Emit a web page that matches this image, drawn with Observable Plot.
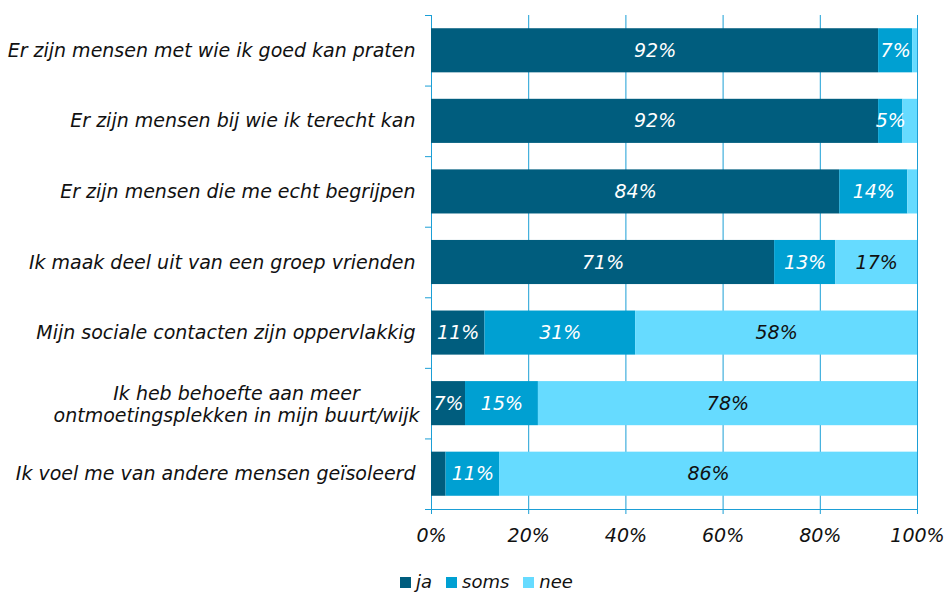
<!DOCTYPE html>
<html><head><meta charset="utf-8">
<script src="https://cdn.jsdelivr.net/npm/d3@7"></script>
<script src="https://cdn.jsdelivr.net/npm/@observablehq/plot@0.6"></script>
<style>
body{margin:0;background:#fff;font-family:"DejaVu Sans",Verdana,sans-serif;}
#wrap{position:relative;width:948px;height:592px;}
#legend{position:absolute;left:400px;top:572px;display:flex;align-items:center;font-style:italic;font-size:18px;color:#111;line-height:20px;}
#legend .item{display:flex;align-items:center;margin-right:14px;}
#legend .sw{width:11px;height:11px;margin-right:5px;}
</style></head><body>
<div id="wrap"><div id="chart"></div><div id="legend"></div></div>
<script>
const categories = [
  "Er zijn mensen met wie ik goed kan praten",
  "Er zijn mensen bij wie ik terecht kan",
  "Er zijn mensen die me echt begrijpen",
  "Ik maak deel uit van een groep vrienden",
  "Mijn sociale contacten zijn oppervlakkig",
  "Ik heb behoefte aan meer\nontmoetingsplekken in mijn buurt/wijk",
  "Ik voel me van andere mensen geïsoleerd"
];
const seriesNames = ["ja", "soms", "nee"];
const ja   = [92, 92, 84, 70.6, 11, 7, 3];
const soms = [7, 5, 14, 12.6, 31, 15, 11];
const nee  = [1, 3, 2, 16.8, 58, 78, 86];
const xTicks = [0, 20, 40, 60, 80, 100];
const colors = ["#005d7e", "#00a0d2", "#66dbff"];
const lineColor = "#1b9fd6";

const values = {ja, soms, nee};
const data = [];
categories.forEach((c, i) => seriesNames.forEach(s => data.push({cat: c, series: s, value: values[s][i]})));

const W = 948, H = 555, mt = 15, mb = 46, ml = 431, mr = 31;
const step = (H - mt - mb) / categories.length;
const lbl = d => d.value >= 4 ? Math.round(d.value) + "%" : "";
const wrapped = categories.filter(c => c.includes("\n"));
const single = categories.filter(c => !c.includes("\n"));

const chart = Plot.plot({
  width: W, height: H,
  marginLeft: ml, marginRight: mr, marginTop: mt, marginBottom: mb,
  style: {fontFamily: "DejaVu Sans, Verdana, sans-serif", fontSize: "18px", fontStyle: "italic", color: "#111", background: "#fff", overflow: "visible"},
  x: {domain: [0, 100], label: null},
  y: {domain: categories, paddingInner: 0.375, paddingOuter: 0.1875, round: false, axis: null, label: null},
  color: {domain: seriesNames, range: colors},
  marks: [
    Plot.ruleX(xTicks, {stroke: lineColor, strokeWidth: 1}),
    Plot.barX(data, Plot.stackX({y: "cat", x: "value", fill: "series"})),
    Plot.text(data, Plot.stackX({y: "cat", x: "value", text: d => d.series !== "nee" ? lbl(d) : "", fill: "white", fontSize: 19, fontStyle: "italic", letterSpacing: 1})),
    Plot.text(data, Plot.stackX({y: "cat", x: "value", text: d => d.series === "nee" ? lbl(d) : "", fill: "#111", fontSize: 19, fontStyle: "italic", letterSpacing: 1})),
    Plot.ruleY(categories, {y: d => d, x1: 0, x2: 0, insetLeft: -6, dy: -step / 2, stroke: lineColor}),
    Plot.ruleY(categories.slice(-1), {y: d => d, x1: 0, x2: 100, insetLeft: -6, dy: step / 2, stroke: lineColor}),
    Plot.axisX({ticks: xTicks, tickFormat: d => d + "%", tickSize: 5, tickPadding: 14, stroke: lineColor, fill: "#111", fontSize: 19, fontStyle: "italic", letterSpacing: 0.5, label: null}),
    Plot.text(single, {y: d => d, frameAnchor: "left", textAnchor: "end", dx: -16, text: d => d, fill: "#111", fontSize: 19, fontStyle: "italic"}),
    Plot.text(wrapped, {y: d => d, frameAnchor: "left", textAnchor: "middle", dx: -195, lineHeight: 1.15, text: d => d, fill: "#111", fontSize: 19, fontStyle: "italic"})
  ]
});
document.getElementById("chart").appendChild(chart);

const legend = document.getElementById("legend");
seriesNames.forEach((s, i) => {
  const it = document.createElement("div"); it.className = "item";
  const sw = document.createElement("div"); sw.className = "sw"; sw.style.background = colors[i];
  const t = document.createElement("span"); t.textContent = s;
  it.appendChild(sw); it.appendChild(t); legend.appendChild(it);
});
</script>
</body></html>
